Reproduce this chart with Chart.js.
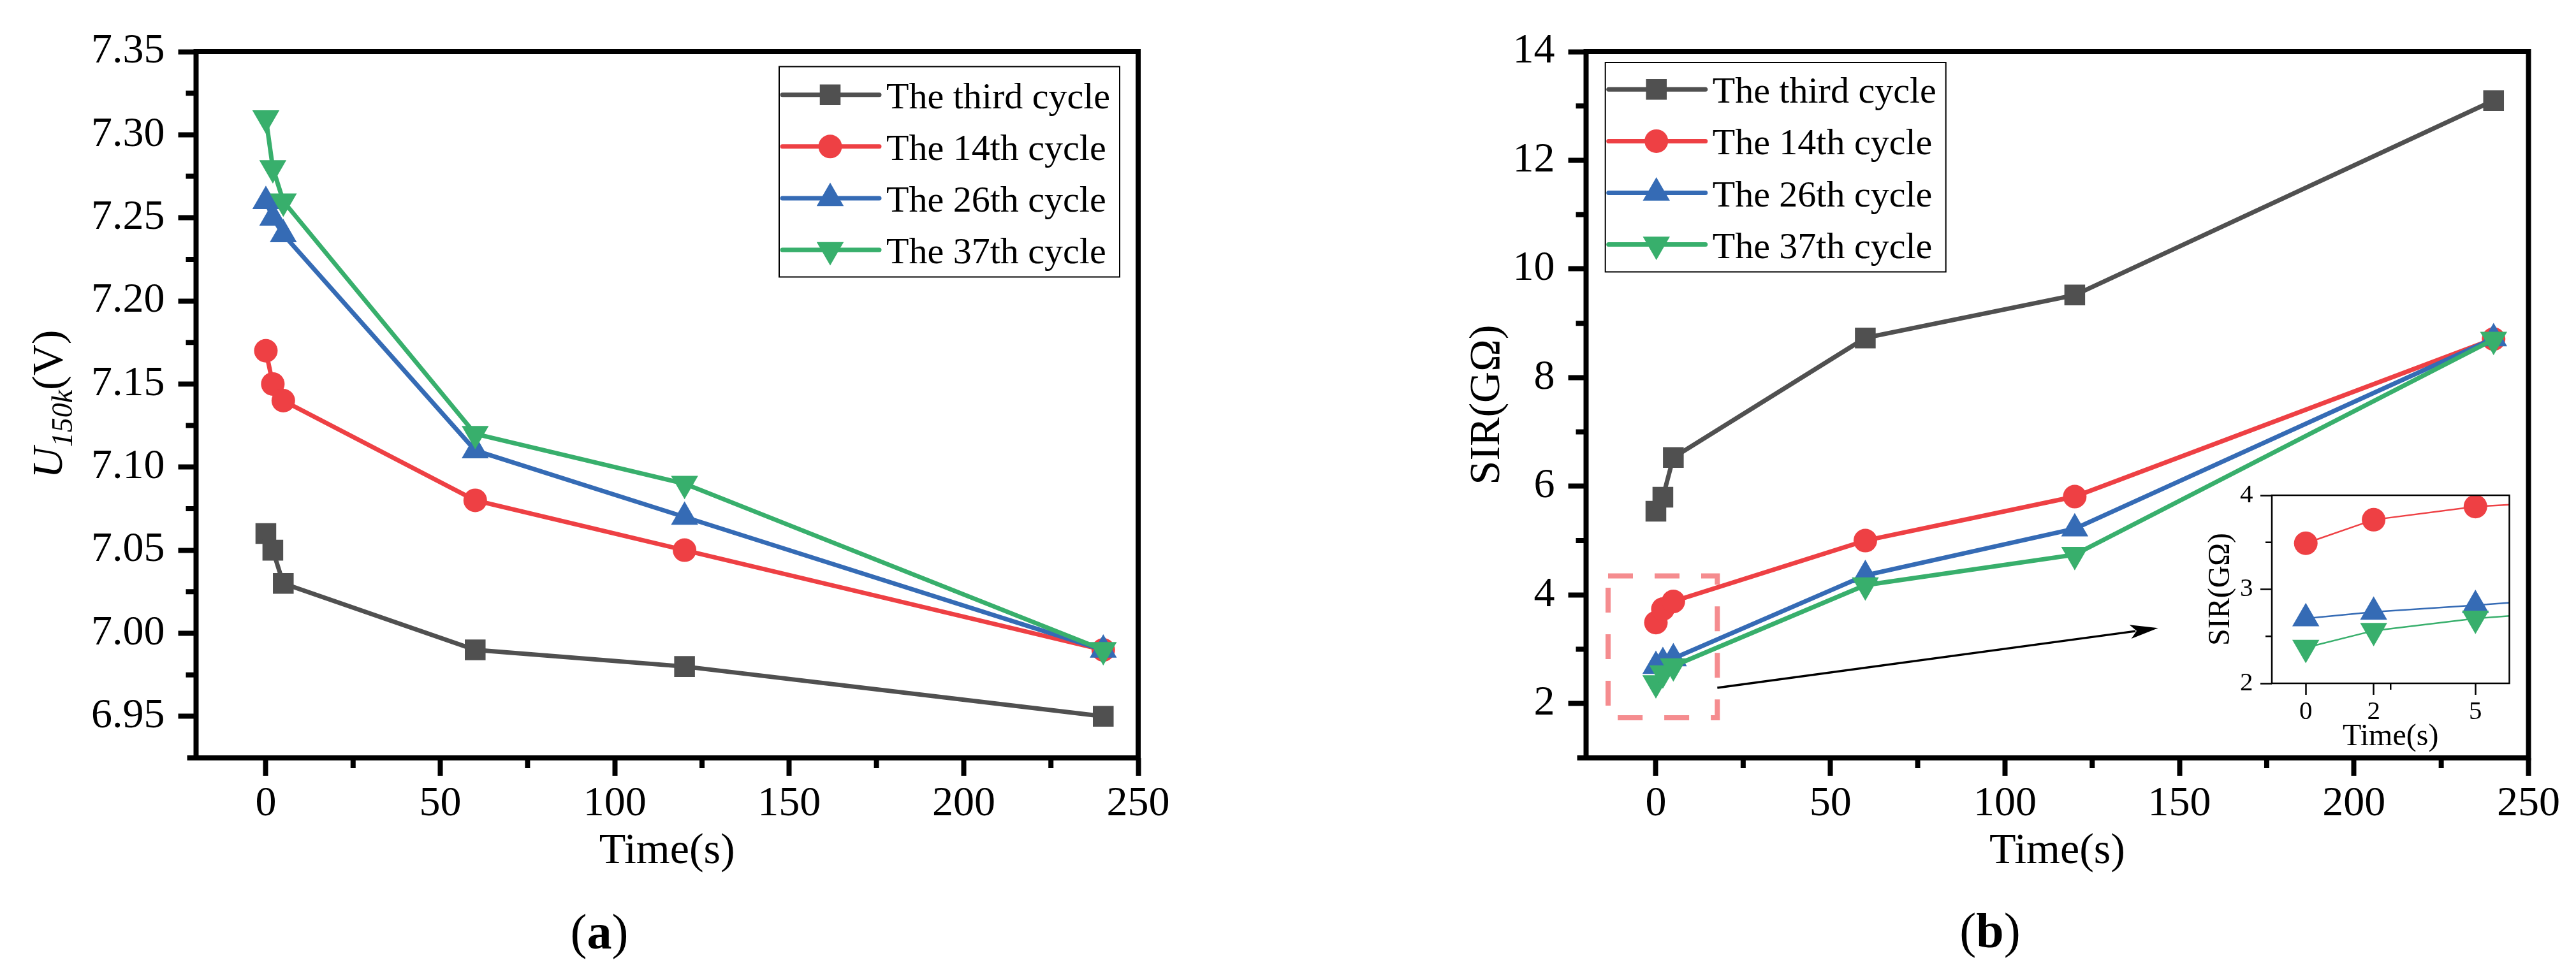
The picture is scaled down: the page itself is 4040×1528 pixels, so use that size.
<!DOCTYPE html>
<html>
<head>
<meta charset="utf-8">
<script src="https://cdn.jsdelivr.net/npm/chart.js@4.4.1/dist/chart.umd.min.js"></script>
<style>
html,body{margin:0;padding:0;background:#fff;}
body{width:4040px;height:1528px;position:relative;overflow:hidden;font-family:"Liberation Serif",serif;}
.box{position:absolute;}
.box canvas{display:block;}
.panel{position:absolute;font-family:"Liberation Serif",serif;font-size:78px;color:#000;transform:translate(-50%,-50%);white-space:nowrap;line-height:1;}
</style>
</head>
<body>
<div class="box" style="left:0;top:0;width:2020px;height:1528px;"><canvas id="cA" width="2020" height="1528"></canvas></div>
<div class="box" style="left:2020px;top:0;width:2020px;height:1528px;"><canvas id="cB" width="2020" height="1528"></canvas></div>
<div class="box" style="left:3400px;top:740px;width:560px;height:470px;"><canvas id="cI" width="560" height="470"></canvas></div>
<div class="panel" style="left:940px;top:1462px;">(<b>a</b>)</div>
<div class="panel" style="left:3121px;top:1460px;">(<b>b</b>)</div>
<script>
// ---------------- data ----------------
const timeSec = [0, 2, 5, 60, 120, 240];
const seriesNames = ['The third cycle', 'The 14th cycle', 'The 26th cycle', 'The 37th cycle'];

const u150kThird = [7.06, 7.05, 7.03, 6.99, 6.98, 6.95];
const u150k14th  = [7.17, 7.15, 7.14, 7.08, 7.05, 6.99];
const u150k26th  = [7.26, 7.25, 7.24, 7.11, 7.07, 6.99];
const u150k37th  = [7.31, 7.28, 7.26, 7.12, 7.09, 6.99];

const sirThird = [5.54, 5.80, 6.53, 8.73, 9.52, 13.10];
const sir14th  = [3.49, 3.74, 3.88, 5.00, 5.81, 8.71];
const sir26th  = [2.69, 2.76, 2.83, 4.36, 5.22, 8.72];
const sir37th  = [2.38, 2.56, 2.69, 4.18, 4.74, 8.70];

const xTicksMain = [0, 50, 100, 150, 200, 250];
const xMinorMain = [25, 75, 125, 175, 225];
const yTicksU = [6.95, 7.00, 7.05, 7.10, 7.15, 7.20, 7.25, 7.30, 7.35];
const yMinorU = [6.975, 7.025, 7.075, 7.125, 7.175, 7.225, 7.275, 7.325];
const yTicksSIR = [2, 4, 6, 8, 10, 12, 14];
const yMinorSIR = [3, 5, 7, 9, 11, 13];
const xTicksInset = [0, 2, 5];
const xMinorInset = [2.5];
const yTicksInset = [2, 3, 4];
const yMinorInset = [2.5, 3.5];

// zoom box and arrow (data coordinates of panel b)
const zoomBoxX = [-13.7, 17.6];
const zoomBoxY = [1.74, 4.35];
const arrowFrom = [17.6, 2.29];
const arrowTo = [143.9, 3.39];

// ---------------- styles ----------------
const FONT = '"Liberation Serif", "Times New Roman", serif';
const colors = ['#505050', '#ee4044', '#356bb5', '#38af6c'];
const pStyles = ['rect', 'circle', 'triangle', 'triangle'];
const pRot = [0, 0, 0, 180];
const pRad = [23, 18.5, 24.5, 24.5];

function makeDatasets(list, lw) {
  return list.map((vals, i) => ({
    label: seriesNames[i],
    data: timeSec.map((t, j) => ({x: t, y: vals[j]})),
    borderColor: colors[i],
    backgroundColor: colors[i],
    pointBackgroundColor: colors[i],
    pointBorderColor: colors[i],
    pointBorderWidth: 0,
    pointStyle: pStyles[i],
    pointRotation: pRot[i],
    pointRadius: pRad[i],
    pointHoverRadius: pRad[i],
    borderWidth: lw,
    tension: 0,
    fill: false,
    order: list.length - i
  }));
}

function drawMarker(ctx, style, x, y, r, rot, color) {
  ctx.save();
  ctx.fillStyle = color;
  ctx.beginPath();
  if (style === 'rect') {
    const s = r * Math.SQRT2;
    ctx.rect(x - s / 2, y - s / 2, s, s);
  } else if (style === 'circle') {
    ctx.arc(x, y, r, 0, Math.PI * 2);
  } else {
    let a = rot * Math.PI / 180;
    ctx.moveTo(x + Math.sin(a) * r, y - Math.cos(a) * r);
    a += 2 * Math.PI / 3;
    ctx.lineTo(x + Math.sin(a) * r, y - Math.cos(a) * r);
    a += 2 * Math.PI / 3;
    ctx.lineTo(x + Math.sin(a) * r, y - Math.cos(a) * r);
    ctx.closePath();
  }
  ctx.fill();
  ctx.restore();
}

// frame + minor ticks
const framePlugin = {
  id: 'frame',
  afterDatasetsDraw(chart, args, o) {
    const {ctx, chartArea: a} = chart;
    const xs = chart.scales.x, ys = chart.scales.y;
    ctx.save();
    ctx.strokeStyle = '#000';
    ctx.lineWidth = o.width;
    ctx.lineJoin = 'miter';
    ctx.lineCap = 'butt';
    ctx.strokeRect(a.left, a.top, a.right - a.left, a.bottom - a.top);
    if (o.overhang) {
      ctx.beginPath();
      ctx.moveTo(a.left - o.overhang, a.bottom);
      ctx.lineTo(a.left, a.bottom);
      ctx.stroke();
    }
    ctx.lineWidth = o.tickWidth;
    ctx.beginPath();
    (o.minorX || []).forEach(v => {
      const p = xs.getPixelForValue(v);
      ctx.moveTo(p, a.bottom);
      ctx.lineTo(p, a.bottom + o.minorLen);
    });
    (o.minorY || []).forEach(v => {
      const p = ys.getPixelForValue(v);
      ctx.moveTo(a.left, p);
      ctx.lineTo(a.left - o.minorLen, p);
    });
    ctx.stroke();
    ctx.restore();
  }
};

// boxed legend inside the plot
const boxLegendPlugin = {
  id: 'boxLegend',
  afterDraw(chart, args, o) {
    if (!o || !o.show) return;
    const {ctx, chartArea: a} = chart;
    const bx = o.anchor === 'right' ? a.right - o.dx - o.w : a.left + o.dx;
    const by = a.top + o.dy;
    ctx.save();
    ctx.fillStyle = '#fff';
    ctx.fillRect(bx, by, o.w, o.h);
    ctx.strokeStyle = '#000';
    ctx.lineWidth = 2;
    ctx.strokeRect(bx, by, o.w, o.h);
    seriesNames.forEach((name, i) => {
      const y = by + o.firstRow + i * o.rowGap;
      ctx.strokeStyle = colors[i];
      ctx.lineWidth = o.lineWidth;
      ctx.lineCap = 'round';
      ctx.beginPath();
      ctx.moveTo(bx + o.lineX0, y);
      ctx.lineTo(bx + o.lineX1, y);
      ctx.stroke();
      drawMarker(ctx, pStyles[i], bx + o.markX, y, pRad[i], pRot[i], colors[i]);
      ctx.fillStyle = '#000';
      ctx.font = o.fontSize + 'px ' + FONT;
      ctx.textBaseline = 'alphabetic';
      ctx.textAlign = 'left';
      ctx.fillText(name, bx + o.textX, y + o.textDy);
    });
    ctx.restore();
  }
};

// U150k(V) y-axis title with mixed styles
const uTitlePlugin = {
  id: 'uTitle',
  afterDraw(chart, args, o) {
    if (!o || !o.show) return;
    const ctx = chart.ctx;
    ctx.save();
    ctx.translate(o.x, o.y);
    ctx.rotate(-Math.PI / 2);
    ctx.fillStyle = '#000';
    ctx.textBaseline = 'alphabetic';
    ctx.textAlign = 'left';
    const f1 = 'italic 68px ' + FONT, f2 = 'italic 46px ' + FONT, f3 = '68px ' + FONT;
    ctx.font = f1; const w1 = ctx.measureText('U').width;
    ctx.font = f2; const w2 = ctx.measureText('150k').width;
    ctx.font = f3; const w3 = ctx.measureText('(V)').width;
    let sx = -(w1 + w2 + w3) / 2;
    ctx.font = f1; ctx.fillText('U', sx, 0); sx += w1;
    ctx.font = f2; ctx.fillText('150k', sx, 16); sx += w2;
    ctx.font = f3; ctx.fillText('(V)', sx, 0);
    ctx.restore();
  }
};

// dashed zoom box + arrow on panel b
const zoomMarkPlugin = {
  id: 'zoomMark',
  afterDatasetsDraw(chart, args, o) {
    if (!o || !o.show) return;
    const {ctx} = chart;
    const xs = chart.scales.x, ys = chart.scales.y;
    const x0 = xs.getPixelForValue(zoomBoxX[0]), x1 = xs.getPixelForValue(zoomBoxX[1]);
    const y0 = ys.getPixelForValue(zoomBoxY[1]), y1 = ys.getPixelForValue(zoomBoxY[0]);
    ctx.save();
    ctx.strokeStyle = 'rgba(238,64,68,0.6)';
    ctx.lineWidth = 8;
    ctx.setLineDash([39, 34]);
    ctx.lineCap = 'butt';
    ctx.strokeRect(x0, y0, x1 - x0, y1 - y0);
    ctx.setLineDash([]);
    // arrow
    const ax0 = xs.getPixelForValue(arrowFrom[0]), ay0 = ys.getPixelForValue(arrowFrom[1]);
    const ax1 = xs.getPixelForValue(arrowTo[0]), ay1 = ys.getPixelForValue(arrowTo[1]);
    const ang = Math.atan2(ay1 - ay0, ax1 - ax0);
    const hl = 44, hw = 11;
    const bxp = ax1 - Math.cos(ang) * hl, byp = ay1 - Math.sin(ang) * hl;
    ctx.strokeStyle = '#000';
    ctx.lineWidth = 3.5;
    ctx.beginPath();
    ctx.moveTo(ax0, ay0);
    ctx.lineTo(bxp + Math.cos(ang) * 8, byp + Math.sin(ang) * 8);
    ctx.stroke();
    ctx.fillStyle = '#000';
    ctx.beginPath();
    ctx.moveTo(ax1, ay1);
    ctx.lineTo(bxp - Math.sin(ang) * hw, byp + Math.cos(ang) * hw);
    ctx.lineTo(bxp + Math.cos(ang) * 10, byp + Math.sin(ang) * 10);
    ctx.lineTo(bxp + Math.sin(ang) * hw, byp - Math.cos(ang) * hw);
    ctx.closePath();
    ctx.fill();
    ctx.restore();
  }
};

Chart.register(framePlugin, boxLegendPlugin, uTitlePlugin, zoomMarkPlugin);

function axisFont(size) { return {family: FONT, size: size}; }

function buildOptions(c) {
  return {
    responsive: false,
    animation: false,
    devicePixelRatio: 1,
    events: [],
    layout: {padding: {top: c.padTop, right: c.padRight, bottom: 0, left: 0}},
    plugins: {
      legend: {display: false},
      tooltip: {enabled: false},
      title: {display: false},
      frame: c.frame,
      boxLegend: c.legend || {show: false},
      uTitle: c.uTitle || {show: false},
      zoomMark: c.zoomMark || {show: false}
    },
    scales: {
      x: {
        type: 'linear',
        min: c.xMin, max: c.xMax,
        afterBuildTicks: s => { s.ticks = c.xTicks.map(v => ({value: v})); },
        afterFit: s => { s.height = c.xHeight; },
        grid: {display: true, drawOnChartArea: false, drawTicks: true, tickLength: c.tickLen, tickWidth: c.tickWidth, tickColor: '#000'},
        border: {display: false},
        ticks: {font: axisFont(c.tickFont), color: '#000', padding: c.xTickPad, maxRotation: 0, minRotation: 0, autoSkip: false,
                callback: v => String(v)},
        title: {display: true, text: 'Time(s)', font: axisFont(c.titleFont), color: '#000', padding: {top: 0, bottom: c.xTitlePad}}
      },
      y: {
        type: 'linear',
        min: c.yMin, max: c.yMax,
        afterBuildTicks: s => { s.ticks = c.yTicks.map(v => ({value: v})); },
        afterFit: s => { s.width = c.yWidth; },
        grid: {display: true, drawOnChartArea: false, drawTicks: true, tickLength: c.tickLen, tickWidth: c.tickWidth, tickColor: '#000'},
        border: {display: false},
        ticks: {font: axisFont(c.tickFont), color: '#000', padding: c.yTickPad, autoSkip: false,
                callback: c.yFmt},
        title: c.yTitle ? {display: true, text: c.yTitle, font: axisFont(c.titleFont), color: '#000', padding: {top: c.yTitlePad, bottom: 0}} : {display: false}
      }
    }
  };
}

const legendCommon = {show: true, w: 534, rowGap: 81.1, lineX0: 5, lineX1: 157, markX: 80, textX: 168, fontSize: 58, textDy: 21, lineWidth: 7};

// ---------------- panel a ----------------
new Chart(document.getElementById('cA'), {
  type: 'line',
  data: {datasets: makeDatasets([u150kThird, u150k14th, u150k26th, u150k37th], 7)},
  options: buildOptions({
    padTop: 81, padRight: 235, xHeight: 339, yWidth: 307.5,
    xMin: -20, xMax: 250, yMin: 6.925, yMax: 7.35,
    xTicks: xTicksMain, yTicks: yTicksU,
    tickLen: 28, tickWidth: 8, tickFont: 66, titleFont: 68,
    xTickPad: 5, yTickPad: 21, xTitlePad: 151,
    yFmt: v => Number(v).toFixed(2),
    frame: {width: 8, tickWidth: 8, minorLen: 16, minorX: xMinorMain, minorY: yMinorU, overhang: 14},
    legend: Object.assign({}, legendCommon, {anchor: 'right', dx: 29, dy: 23.5, h: 330, firstRow: 44.2}),
    uTitle: {show: true, x: 97, y: 634}
  })
});

// ---------------- panel b ----------------
new Chart(document.getElementById('cB'), {
  type: 'line',
  data: {datasets: makeDatasets([sirThird, sir14th, sir26th, sir37th], 7)},
  options: buildOptions({
    padTop: 81, padRight: 74.5, xHeight: 339, yWidth: 467.5,
    xMin: -20, xMax: 250, yMin: 1, yMax: 14,
    xTicks: xTicksMain, yTicks: yTicksSIR,
    tickLen: 28, tickWidth: 8, tickFont: 66, titleFont: 68,
    xTickPad: 5, yTickPad: 21, xTitlePad: 151,
    yFmt: v => String(v),
    yTitle: 'SIR(GΩ)', yTitlePad: 272,
    frame: {width: 8, tickWidth: 8, minorLen: 16, minorX: xMinorMain, minorY: yMinorSIR, overhang: 14},
    legend: Object.assign({}, legendCommon, {anchor: 'left', dx: 30.2, dy: 17, h: 328.5, firstRow: 42.3}),
    zoomMark: {show: true}
  })
});

// ---------------- inset (14th, 26th, 37th cycles, zoomed on the first seconds) ----------------
new Chart(document.getElementById('cI'), {
  type: 'line',
  data: {datasets: makeDatasets([sirThird, sir14th, sir26th, sir37th], 2.5).slice(1)},
  options: buildOptions({
    padTop: 37, padRight: 24, xHeight: 138, yWidth: 163,
    xMin: -1, xMax: 6, yMin: 2, yMax: 4,
    xTicks: xTicksInset, yTicks: yTicksInset,
    tickLen: 18, tickWidth: 2.5, tickFont: 41, titleFont: 48,
    xTickPad: 2.5, yTickPad: 11.5, xTitlePad: 25,
    yFmt: v => String(v),
    yTitle: 'SIR(GΩ)', yTitlePad: 55,
    frame: {width: 2.5, tickWidth: 2.5, minorLen: 10, minorX: xMinorInset, minorY: yMinorInset, overhang: 0}
  })
});
</script>
</body>
</html>
